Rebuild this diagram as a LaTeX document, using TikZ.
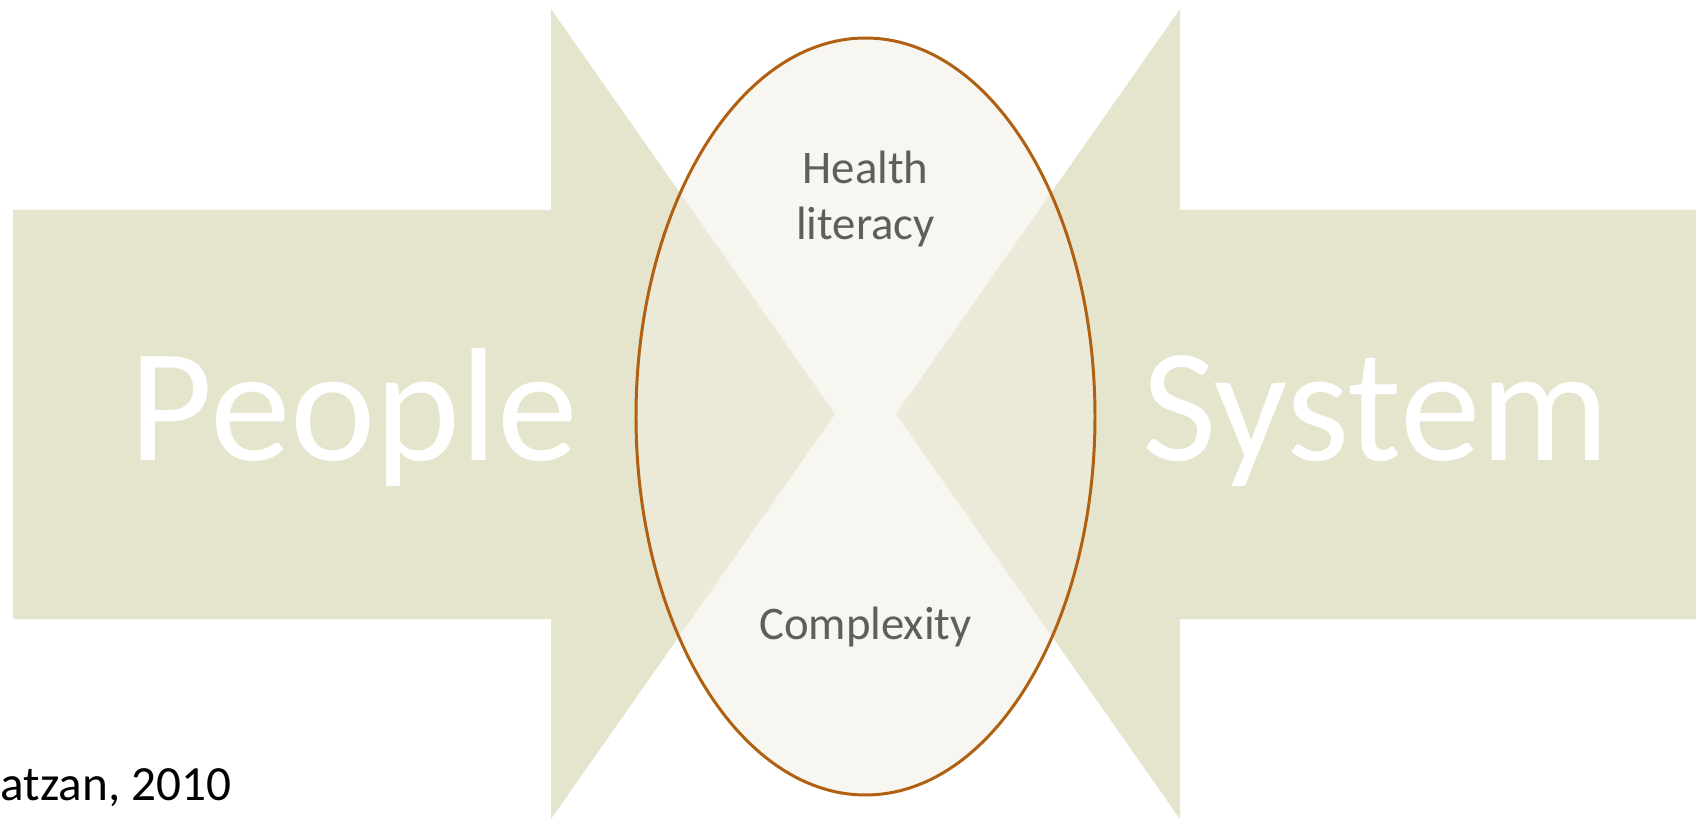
\documentclass[tikz,border=0pt]{standalone}
\usepackage{fontspec}
\setmainfont{Carlito}
\definecolor{arrowfill}{RGB}{229,228,204}
\definecolor{ovalfill}{RGB}{241,239,229}
\definecolor{ovalline}{RGB}{176,96,16}
\definecolor{labelgray}{RGB}{95,95,90}
\begin{document}
\begin{tikzpicture}[
  bigarrow/.style={fill=arrowfill, draw=none},
  bigword/.style={text=white, font=\fontsize{46}{55}\selectfont, inner sep=0pt, anchor=base},
  smallword/.style={text=labelgray, font=\fontsize{13.3}{16.2}\selectfont, align=center, inner sep=0pt}]
\useasboundingbox (0,0) rectangle (16.96,8.19);
\fill[white] (0,0) rectangle (16.96,8.19);

\draw[bigarrow] (0.13,6.09)--(5.51,6.09)--(5.51,8.10)--(8.35,4.05)--(5.51,0)--(5.51,2.00)--(0.13,2.00)--cycle;
\draw[bigarrow] (17.2,6.09)--(11.80,6.09)--(11.80,8.10)--(8.96,4.05)--(11.80,0)--(11.80,2.00)--(17.2,2.00)--cycle;

\draw[ovalline, line width=0.85pt, fill=ovalfill, fill opacity=0.5] (8.655,4.025) ellipse (2.295 and 3.785);

\node[bigword] (people) at (3.54,3.59) {People};
\node[bigword] (system) at (13.76,3.59) {System};
\node[smallword, anchor=base] (health) at (8.655,5.79) {Health\\literacy};
\node[smallword, anchor=base] (complexity) at (8.655,1.80) {Complexity};
\node[font=\fontsize{14}{17}\selectfont, inner sep=0pt, anchor=base west] (source) at (0,0.19) {atzan, 2010};
\end{tikzpicture}
\end{document}
